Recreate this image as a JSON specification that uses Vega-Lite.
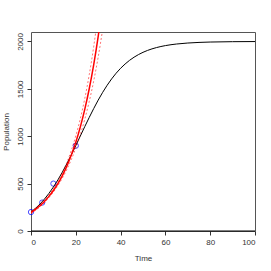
{
  "$schema": "https://vega.github.io/schema/vega-lite/v6.json",
  "autosize": "none",
  "width": 224,
  "height": 199,
  "padding": {"left": 31, "top": 32, "right": 16, "bottom": 40},
  "background": "white",
  "config": {
    "view": {"stroke": "#555555", "strokeWidth": 1},
    "font": "Liberation Sans",
    "axis": {
      "domain": false, "grid": false, "tickColor": "#333333", "tickSize": 4,
      "labelFont": "Liberation Sans", "labelFontSize": 8, "labelColor": "#333333",
      "titleFont": "Liberation Sans", "titleFontSize": 8, "titleFontWeight": "normal", "titleColor": "#333333"
    }
  },
  "datasets": {
    "logistic": [
      {"t": 0, "N": 200}, {"t": 2, "N": 239.0}, {"t": 4, "N": 284.4}, {"t": 6, "N": 336.7},
      {"t": 8, "N": 396.5}, {"t": 10, "N": 463.9}, {"t": 12, "N": 538.9}, {"t": 14, "N": 621.3},
      {"t": 16, "N": 710.0}, {"t": 18, "N": 803.9}, {"t": 20, "N": 901.7}, {"t": 22, "N": 1001.5},
      {"t": 24, "N": 1101.2}, {"t": 26, "N": 1198.6}, {"t": 28, "N": 1292.5}, {"t": 30, "N": 1381.1},
      {"t": 32, "N": 1463.3}, {"t": 34, "N": 1538.1}, {"t": 36, "N": 1605.3}, {"t": 38, "N": 1664.9},
      {"t": 40, "N": 1717.0}, {"t": 42, "N": 1762.1}, {"t": 44, "N": 1800.9}, {"t": 46, "N": 1834.0},
      {"t": 48, "N": 1862.0}, {"t": 50, "N": 1885.6}, {"t": 52, "N": 1905.4}, {"t": 54, "N": 1921.9},
      {"t": 56, "N": 1935.6}, {"t": 58, "N": 1946.9}, {"t": 60, "N": 1956.4}, {"t": 65, "N": 1973.3},
      {"t": 70, "N": 1983.7}, {"t": 75, "N": 1990.1}, {"t": 80, "N": 1994.0}, {"t": 90, "N": 1997.8},
      {"t": 100, "N": 1999.2}
    ],
    "expfit": [
      {"t": 0, "N": 195.0}, {"t": 2, "N": 228.2}, {"t": 4, "N": 266.9}, {"t": 6, "N": 312.3},
      {"t": 8, "N": 365.4}, {"t": 10, "N": 427.5}, {"t": 12, "N": 500.2}, {"t": 14, "N": 585.2},
      {"t": 16, "N": 684.7}, {"t": 18, "N": 801.1}, {"t": 20, "N": 937.3}, {"t": 22, "N": 1096.6},
      {"t": 24, "N": 1283.0}, {"t": 26, "N": 1501.3}, {"t": 28, "N": 1756.3}, {"t": 30, "N": 2054.9},
      {"t": 31, "N": 2222.9}
    ],
    "upper": [
      {"t": 0, "N": 207.1}, {"t": 2, "N": 240.7}, {"t": 4, "N": 279.8}, {"t": 6, "N": 325.9},
      {"t": 8, "N": 380.4}, {"t": 10, "N": 445.1}, {"t": 12, "N": 522.0}, {"t": 14, "N": 613.5},
      {"t": 16, "N": 722.1}, {"t": 18, "N": 850.8}, {"t": 20, "N": 1003.3}, {"t": 22, "N": 1183.6},
      {"t": 24, "N": 1396.8}, {"t": 26, "N": 1649.2}, {"t": 28, "N": 1947.0}, {"t": 29, "N": 2116.0},
      {"t": 30, "N": 2299.4}
    ],
    "lower": [
      {"t": 0, "N": 183.6}, {"t": 2, "N": 216.4}, {"t": 4, "N": 254.6}, {"t": 6, "N": 299.2},
      {"t": 8, "N": 351.0}, {"t": 10, "N": 410.6}, {"t": 12, "N": 479.3}, {"t": 14, "N": 558.2},
      {"t": 16, "N": 649.2}, {"t": 18, "N": 754.3}, {"t": 20, "N": 875.7}, {"t": 22, "N": 1016.0},
      {"t": 24, "N": 1178.4}, {"t": 26, "N": 1366.8}, {"t": 28, "N": 1584.2}, {"t": 30, "N": 1836.5},
      {"t": 32, "N": 2128.3}
    ],
    "obs": [
      {"t": 0, "N": 200}, {"t": 5, "N": 300}, {"t": 10, "N": 500}, {"t": 20, "N": 900}
    ]
  },
  "encoding": {
    "x": {"field": "t", "type": "quantitative", "title": "Time",
      "scale": {"domain": [0, 100], "nice": false, "zero": false},
      "axis": {"values": [0, 20, 40, 60, 80, 100], "format": "d", "labelPadding": 3, "titlePadding": 8}},
    "y": {"field": "N", "type": "quantitative", "title": "Population",
      "scale": {"domain": [0, 2100], "nice": false},
      "axis": {"values": [0, 500, 1000, 1500, 2000], "format": "d", "labelAngle": -90, "labelAlign": "center", "labelBaseline": "bottom", "labelPadding": 3, "titlePadding": 6}}
  },
  "layer": [
    {"data": {"name": "obs"}, "mark": {"type": "point", "shape": "circle", "filled": false, "color": "#0000FF", "size": 28, "strokeWidth": 1}},
    {"data": {"name": "logistic"}, "mark": {"type": "line", "color": "#000000", "strokeWidth": 1, "interpolate": "monotone", "clip": true}},
    {"data": {"name": "upper"}, "mark": {"type": "line", "color": "#FF0000", "opacity": 0.55, "strokeWidth": 1, "strokeDash": [2, 2], "interpolate": "monotone", "clip": true}},
    {"data": {"name": "lower"}, "mark": {"type": "line", "color": "#FF0000", "opacity": 0.55, "strokeWidth": 1, "strokeDash": [2, 2], "interpolate": "monotone", "clip": true}},
    {"data": {"name": "expfit"}, "mark": {"type": "line", "color": "#FF0000", "strokeWidth": 1.5, "interpolate": "monotone", "clip": true}},
    {"data": {"values": [{"N": 0}]}, "mark": {"type": "rule", "color": "#000000", "strokeWidth": 1.2}, "encoding": {"x": {"value": 0}, "x2": {"value": 224}, "y": {"field": "N", "type": "quantitative"}}}
  ]
}
